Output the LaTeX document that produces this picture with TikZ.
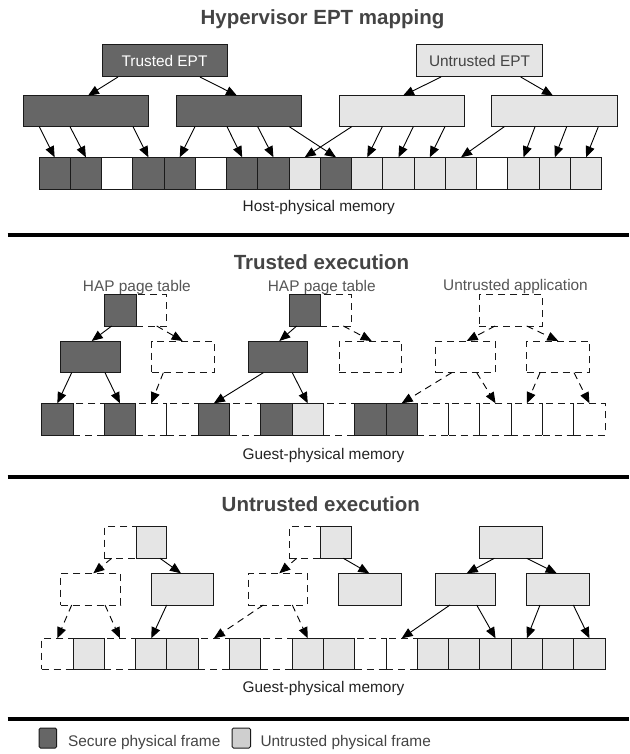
\documentclass[tikz,border=0pt]{standalone}
\usepackage{fontspec}
\setmainfont{Liberation Sans}
\usetikzlibrary{arrows.meta}
\definecolor{dkfill}{HTML}{666666}
\definecolor{ltfill}{HTML}{E5E5E5}
\definecolor{lgfill}{HTML}{CFCFCF}
\definecolor{edge}{HTML}{1A1A1A}
\definecolor{ttl}{HTML}{444444}
\definecolor{lbl}{HTML}{555555}
\definecolor{mem}{HTML}{222222}
\newcommand\bx[6]{\node[#1,anchor=north west,minimum width=#5pt,minimum height=#6pt] (#2) at ({#3},{#4}) {};}
\tikzset{
  base box/.style={rectangle,inner sep=0pt,outer sep=0pt,line width=1pt},
  dk/.style={base box,draw=edge,fill=dkfill},
  lt/.style={base box,draw=edge,fill=ltfill},
  wt/.style={base box,draw=edge,fill=white},
  dsh/.style={base box,draw=edge,dash pattern=on 7pt off 5pt},
  fD/.style={dk},
  fL/.style={lt},
  fW/.style={wt},
  fN/.style={dsh},
  arr/.style={draw=black,line width=0.9pt,-{Triangle[length=11pt,width=9pt]}},
  darr/.style={arr,dash pattern=on 7pt off 5pt},
  title/.style={anchor=base,text=ttl,font=\fontsize{20.5}{24}\selectfont\bfseries},
  memlab/.style={anchor=base,text=mem,font=\fontsize{15.4}{18}\selectfont},
  toplab/.style={anchor=base,text=lbl,font=\fontsize{15.4}{18}\selectfont},
  sep/.style={line width=4pt,draw=black}
}
\begin{document}
\begin{tikzpicture}[x=1pt,y=-1pt]
\useasboundingbox (0,0) rectangle (629,754);
% ---------------- Section 1 ----------------
\node[title] (t1) at (322.5,25) {Hypervisor EPT mapping};
\node[dk,anchor=north west,minimum width=125pt,minimum height=32pt,text=white,font=\fontsize{15.4}{18}\selectfont] (TE) at (102,45) {Trusted EPT};
\node[lt,anchor=north west,minimum width=125.6pt,minimum height=32pt,text=ttl,font=\fontsize{15.4}{18}\selectfont] (UE) at (416.7,45) {Untrusted EPT};
\bx{dk}{B1}{23.3}{95.7}{125}{31}
\bx{dk}{B2}{176}{95.7}{125.7}{31}
\bx{lt}{B3}{339}{95.7}{125}{31}
\bx{lt}{B4}{491.7}{95.7}{125.6}{31}
\foreach \t [count=\i] in {D,D,W,D,D,W,D,D,L,D,L,L,L,L,W,L,L,L}{
  \bx{f\t}{r1f\i}{39+(\i-1)*31.26}{157.3}{31.26}{32}
}
\draw[arr] ([xshift=16]TE.south west) -- ([xshift=64.7]B1.north west);
\draw[arr] ([xshift=98]TE.south west) -- ([xshift=61]B2.north west);
\draw[arr] ([xshift=24.3]UE.south west) -- ([xshift=64]B3.north west);
\draw[arr] ([xshift=104]UE.south west) -- ([xshift=61.3]B4.north west);
\draw[arr] ([xshift=16]B1.south west) -- (r1f1.north);
\draw[arr] ([xshift=46.7]B1.south west) -- (r1f2.north);
\draw[arr] ([xshift=109.7]B1.south west) -- (r1f4.north);
\draw[arr] ([xshift=19]B2.south west) -- (r1f5.north);
\draw[arr] ([xshift=51]B2.south west) -- (r1f7.north);
\draw[arr] ([xshift=81.7]B2.south west) -- (r1f8.north);
\draw[arr] ([xshift=113.3]B2.south west) -- (r1f10.north);
\draw[arr] ([xshift=12.7]B3.south west) -- (r1f9.north);
\draw[arr] ([xshift=43.3]B3.south west) -- (r1f11.north);
\draw[arr] ([xshift=74.3]B3.south west) -- (r1f12.north);
\draw[arr] ([xshift=106]B3.south west) -- (r1f13.north);
\draw[arr] ([xshift=12.6]B4.south west) -- (r1f14.north);
\draw[arr] ([xshift=43.3]B4.south west) -- (r1f16.north);
\draw[arr] ([xshift=75]B4.south west) -- (r1f17.north);
\draw[arr] ([xshift=106.6]B4.south west) -- (r1f18.north);
\node[memlab] (hpm) at (318.8,211.5) {Host-physical memory};
\draw[sep] (7.5,234.5) -- (629,234.5);
% ---------------- Section 2 ----------------
\node[title] (t2) at (321.5,269.3) {Trusted execution};
\node[toplab] (hap1) at (136.9,291.5) {HAP page table};
\node[toplab] (hap2) at (321.8,291.5) {HAP page table};
\node[toplab] (uapp) at (515.5,290) {Untrusted application};
\foreach \t [count=\i] in {N,N,N,N,N,N,N,N,L,N,N,N,N,N,N,N,N,N}{
  \bx{f\t}{r2f\i}{41.7+(\i-1)*31.3}{403.3}{31.3}{31.7}
}
\foreach \i in {1,3,6,8,11,12}{
  \bx{dk}{r2d\i}{41.7+(\i-1)*31.3}{403.3}{31.3}{31.7}
}
\bx{dsh}{t1b}{136}{294.3}{30.7}{31.7}
\bx{dk}{t1a}{104.3}{294.3}{31.7}{31.7}
\bx{dk}{t1l}{60.7}{341}{60}{31.7}
\bx{dsh}{t1r}{151.7}{341}{62.3}{31.7}
\bx{dsh}{t2b}{320}{294.3}{31.7}{31.7}
\bx{dk}{t2a}{289.3}{294.3}{30.7}{31.7}
\bx{dk}{t2l}{248.3}{341}{59}{31.7}
\bx{dsh}{t2r}{339}{341}{62.7}{31.7}
\bx{dsh}{t3}{479.3}{294.3}{63}{31.7}
\bx{dsh}{t3l}{435.7}{341}{59.3}{31.7}
\bx{dsh}{t3r}{526.7}{341}{62.6}{31.7}
\draw[arr] ([xshift=7.4]t1a.south west) -- ([xshift=31]t1l.north west);
\draw[darr] ([xshift=20.7]t1b.south west) -- ([xshift=31]t1r.north west);
\draw[arr] ([xshift=11]t1l.south west) -- (r2f1.north);
\draw[arr] ([xshift=44.3]t1l.south west) -- (r2f3.north);
\draw[darr] ([xshift=11.6]t1r.south west) -- (r2f4.north);
\draw[arr] ([xshift=7.4]t2a.south west) -- ([xshift=31]t2l.north west);
\draw[darr] ([xshift=23.3]t2b.south west) -- ([xshift=32.7]t2r.north west);
\draw[arr] ([xshift=15]t2l.south west) -- (r2f6.north);
\draw[arr] ([xshift=44]t2l.south west) -- (r2f9.north);
\draw[darr] ([xshift=15.7]t3.south west) -- ([xshift=31]t3l.north west);
\draw[darr] ([xshift=47.4]t3.south west) -- ([xshift=31.6]t3r.north west);
\draw[darr] ([xshift=16]t3l.south west) -- (r2f12.north);
\draw[darr] ([xshift=41]t3l.south west) -- (r2f15.north);
\draw[darr] ([xshift=13.3]t3r.south west) -- (r2f16.north);
\draw[darr] ([xshift=47.3]t3r.south west) -- (r2f18.north);
\node[memlab] (gpm1) at (323.5,459.5) {Guest-physical memory};
\draw[sep] (7.5,477) -- (629,477);
% ---------------- Section 3 ----------------
\node[title] (t3t) at (320.8,511.5) {Untrusted execution};
\foreach \t [count=\i] in {N,L,N,L,L,N,L,N,L,L,N,N,L,L,L,L,L,L}{
  \bx{f\t}{r3f\i}{41.7+(\i-1)*31.3}{638.3}{31.3}{31}
}
\bx{dsh}{u1a}{104.3}{526.7}{31.7}{31.6}
\bx{lt}{u1b}{136}{526.7}{30.7}{31.6}
\bx{dsh}{u1l}{60.7}{573.3}{60}{31.7}
\bx{lt}{u1r}{151}{573.3}{62.3}{31.7}
\bx{dsh}{u2a}{289}{526.7}{31}{31.6}
\bx{lt}{u2b}{320}{526.7}{31.7}{31.6}
\bx{dsh}{u2l}{248.3}{573.3}{59}{31.7}
\bx{lt}{u2r}{338.3}{573.3}{63.4}{31.7}
\bx{lt}{u3}{479.3}{526.7}{63}{31.6}
\bx{lt}{u3l}{435.7}{573.3}{59.3}{31.7}
\bx{lt}{u3r}{526.7}{573.3}{62.6}{31.7}
\draw[darr] ([xshift=7.4]u1a.south west) -- ([xshift=32.6]u1l.north west);
\draw[arr] ([xshift=24]u1b.south west) -- ([xshift=30]u1r.north west);
\draw[darr] ([xshift=11]u1l.south west) -- (r3f1.north);
\draw[darr] ([xshift=44.3]u1l.south west) -- (r3f3.north);
\draw[arr] ([xshift=15.7]u1r.south west) -- (r3f4.north);
\draw[darr] ([xshift=7.7]u2a.south west) -- ([xshift=31]u2l.north west);
\draw[arr] ([xshift=23.3]u2b.south west) -- ([xshift=31]u2r.north west);
\draw[darr] ([xshift=15]u2l.south west) -- (r3f6.north);
\draw[darr] ([xshift=44]u2l.south west) -- (r3f9.north);
\draw[arr] ([xshift=15]u3.south west) -- ([xshift=31]u3l.north west);
\draw[arr] ([xshift=47.4]u3.south west) -- ([xshift=30]u3r.north west);
\draw[arr] ([xshift=14.3]u3l.south west) -- (r3f12.north);
\draw[arr] ([xshift=41]u3l.south west) -- (r3f15.north);
\draw[arr] ([xshift=13.3]u3r.south west) -- (r3f16.north);
\draw[arr] ([xshift=46.6]u3r.south west) -- (r3f18.north);
\node[memlab] (gpm2) at (323.5,692) {Guest-physical memory};
\draw[sep] (7.5,719) -- (629,719);
% ---------------- Legend ----------------
\node[base box,draw=edge,fill=dkfill,rounded corners=1.5pt,anchor=north west,minimum width=17.7pt,minimum height=20pt] (lgd) at (39,728) {};
\node[memlab,anchor=base west,text=ttl] (lgdt) at (64.5,746.5) {Secure physical frame};
\node[base box,draw=edge,fill=lgfill,rounded corners=1.5pt,anchor=north west,minimum width=18.5pt,minimum height=20pt] (lgu) at (232,728) {};
\node[memlab,anchor=base west,text=ttl] (lgut) at (257,746.5) {Untrusted physical frame};
\end{tikzpicture}
\end{document}
